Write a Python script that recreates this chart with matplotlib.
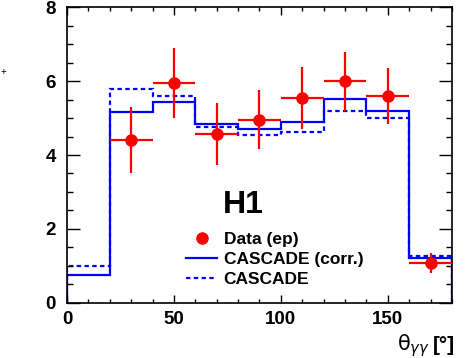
import numpy as np
import matplotlib
matplotlib.use("Agg")
import matplotlib.pyplot as plt
from matplotlib.lines import Line2D

plt.rcParams['font.family'] = ['Liberation Sans', 'DejaVu Sans']

# bin edges of the histograms
bin_edges = [0, 20, 40, 60, 80, 100, 120, 140, 160, 180]

# CASCADE (corr.) and CASCADE predictions per bin
cascade_corr = [0.76, 5.16, 5.43, 4.84, 4.71, 4.89, 5.51, 5.19, 1.22]
cascade_raw = [1.00, 5.78, 5.59, 4.76, 4.54, 4.62, 5.19, 5.00, 1.26]

# data points (ep)
data_x = [30, 50, 70, 90, 110, 130, 150, 170]
data_y = [4.40, 5.95, 4.57, 4.95, 5.54, 6.00, 5.60, 1.08]
data_yerr = [0.90, 0.95, 0.83, 0.80, 0.83, 0.80, 0.75, 0.27]
data_xerr = [10, 10, 10, 10, 10, 10, 10, 10]

fig = plt.figure(figsize=(4.65, 3.58), dpi=100)
ax = fig.add_axes([0.144, 0.154, 0.828, 0.826])

ax.stairs(cascade_corr, bin_edges, color='#0000ff', lw=1.6)
ax.stairs(cascade_raw, bin_edges, color='#0000ff', lw=1.6, linestyle=(0, (2.0, 1.5)))
ax.errorbar(data_x, data_y, yerr=data_yerr, xerr=data_xerr, fmt='o',
            color='#ff0000', ms=8, elinewidth=1.6, capsize=0, zorder=5)

ax.set_xlim(0, 180)
ax.set_ylim(0, 8)
ax.set_xticks([0, 50, 100, 150])
ax.set_xticks(np.arange(0, 181, 10), minor=True)
ax.set_yticks([0, 2, 4, 6, 8])
ax.set_yticks(np.arange(0, 8.01, 0.5), minor=True)
ax.tick_params(axis='x', which='major', direction='in', length=6, width=1,
               top=True, labelsize=13.5, pad=6)
ax.tick_params(axis='x', which='minor', direction='in', length=3, width=1, top=True)
ax.tick_params(axis='y', which='major', direction='in', length=9.5, width=1,
               right=True, labelsize=13.5, pad=8)
ax.tick_params(axis='y', which='minor', direction='in', length=4.5, width=1, right=True)
for lab in ax.get_xticklabels() + ax.get_yticklabels():
    lab.set_fontweight('bold')
for sp in ax.spines.values():
    sp.set_linewidth(1.2)

ax.text(0.457, 0.33, 'H1', transform=ax.transAxes, fontsize=23,
        fontweight='bold', ha='center', va='center')

handles = [
    Line2D([], [], color='#ff0000', marker='o', ms=8, linestyle='none'),
    Line2D([], [], color='#0000ff', lw=1.6),
    Line2D([], [], color='#0000ff', lw=1.6, linestyle=(0, (2.0, 1.5))),
]
ax.legend(handles, ['Data (ep)', 'CASCADE (corr.)', 'CASCADE'],
          loc='upper left', bbox_to_anchor=(0.31, 0.24), frameon=False,
          prop={'weight': 'bold', 'size': 12.5}, handlelength=1.75,
          handletextpad=0.4, labelspacing=0.28, borderpad=0, borderaxespad=0)

fig.text(0.853, 0.035, 'θ$_{\\gamma\\gamma}$', fontsize=15, ha='left',
         va='center', family=['DejaVu Sans'])
fig.text(0.978, 0.035, '[°]', fontsize=15, ha='right', va='center',
         fontweight='bold')
fig.text(0.008, 0.80, '+', fontsize=7, ha='center', va='center')

fig.savefig('out.png', dpi=100)
